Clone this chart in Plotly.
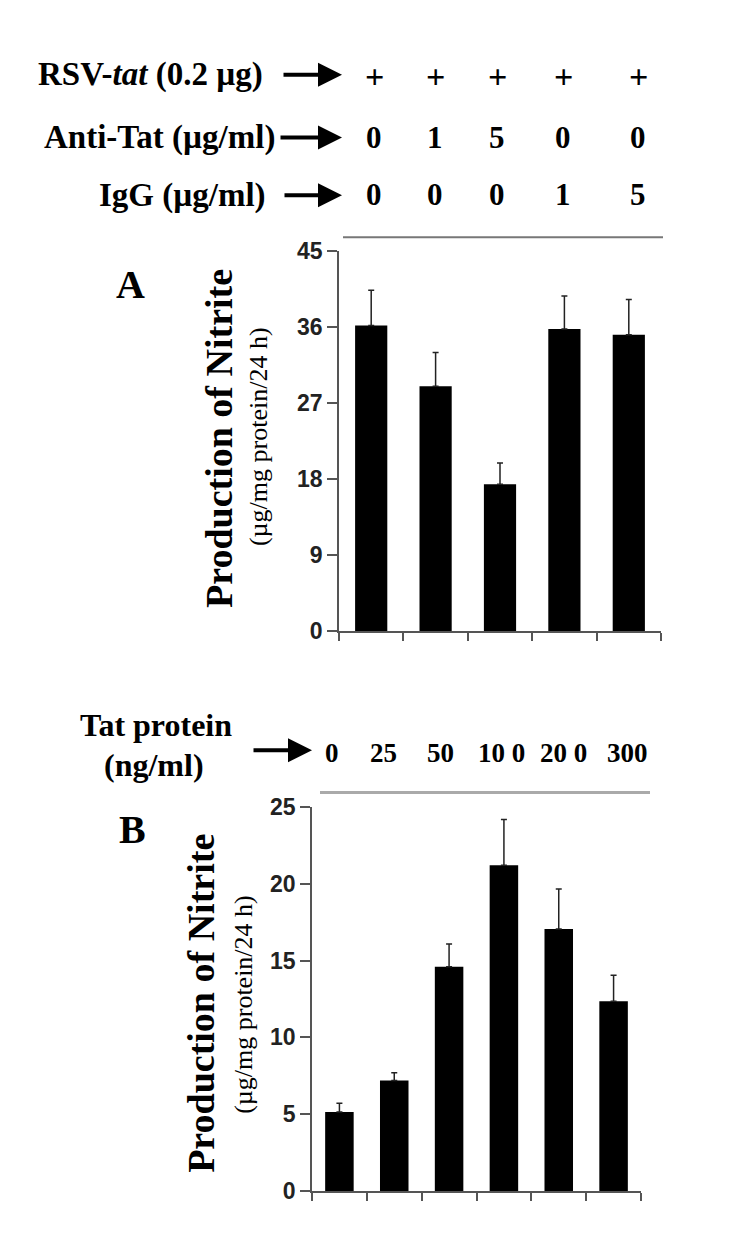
import plotly.graph_objects as go

# ---------------- data ----------------
# Panel A
rsv_tat = ["+", "+", "+", "+", "+"]
anti_tat = ["0", "1", "5", "0", "0"]
igg = ["0", "0", "0", "1", "5"]
cats_a = ["Anti-Tat 0 / IgG 0", "Anti-Tat 1 / IgG 0", "Anti-Tat 5 / IgG 0",
          "Anti-Tat 0 / IgG 1", "Anti-Tat 0 / IgG 5"]
vals_a = [36.2, 29.0, 17.4, 35.8, 35.1]
err_a = [4.2, 4.0, 2.5, 3.9, 4.2]
yticks_a = [0, 9, 18, 27, 36, 45]

# Panel B
tat_protein = ["0", "25", "50", "10 0", "20 0", "300"]
cats_b = ["0", "25", "50", "100", "200", "300"]
vals_b = [5.15, 7.2, 14.6, 21.2, 17.05, 12.35]
err_b = [0.57, 0.5, 1.47, 2.98, 2.6, 1.7]
yticks_b = [0, 5, 10, 15, 20, 25]

# page body has an 8px margin: the figure is placed at (8, 8) in the window
OFF = 8
W, H = 734, 1235
def px(x):
    return (x - OFF) / W
def py(y):
    return 1 - (y - OFF) / H

SERIF = "Liberation Serif, Times New Roman, serif"
SANS = "Liberation Sans, Arial, sans-serif"

fig = go.Figure()

fig.add_trace(go.Bar(
    x=cats_a, y=vals_a, width=0.5, marker=dict(color="black", line=dict(width=0)),
    error_y=dict(type="data", symmetric=False, array=err_a, arrayminus=[0] * len(err_a),
                 color="#222", thickness=1.5, width=3),
    xaxis="x", yaxis="y", showlegend=False))

fig.add_trace(go.Bar(
    x=cats_b, y=vals_b, width=0.52, marker=dict(color="black", line=dict(width=0)),
    error_y=dict(type="data", symmetric=False, array=err_b, arrayminus=[0] * len(err_b),
                 color="#222", thickness=1.5, width=3),
    xaxis="x2", yaxis="y2", showlegend=False))

axis_common = dict(showgrid=False, zeroline=False, showline=True, linecolor="#555",
                   linewidth=1.5, ticks="outside", tickcolor="#555", tickwidth=1.5)

fig.update_layout(
    width=W, height=H, margin=dict(l=0, r=0, t=0, b=0),
    paper_bgcolor="white", plot_bgcolor="white",
    xaxis=dict(domain=[px(339), px(661)], anchor="y", type="category",
               tickson="boundaries", showticklabels=False, ticklen=8, **axis_common),
    yaxis=dict(domain=[py(631), py(243.3)], anchor="x", range=[0, 45],
               tickvals=yticks_a, ticklen=10,
               tickfont=dict(family=SANS, size=23, color="#222", weight="bold"),
               **axis_common),
    xaxis2=dict(domain=[px(312), px(641)], anchor="y2", type="category",
                tickson="boundaries", showticklabels=False, ticklen=8, **axis_common),
    yaxis2=dict(domain=[py(1203.3), py(810.7)], anchor="x2", range=[0, 25],
                tickvals=yticks_b, ticklen=10,
                tickfont=dict(family=SANS, size=23, color="#222", weight="bold"),
                **axis_common),
)

ann = []
def text(x, y, t, size, bold=True, xanchor="center", angle=0, family=SERIF):
    ann.append(dict(x=px(x), y=py(y), xref="paper", yref="paper", text=t,
                    showarrow=False, xanchor=xanchor, yanchor="middle", textangle=angle,
                    font=dict(family=family, size=size, color="black",
                              weight="bold" if bold else "normal")))

def arrow(x0, x1, y):
    ann.append(dict(x=px(x1), y=py(y), xref="paper", yref="paper", text="",
                    showarrow=True, ax=x0 - x1, ay=0, axref="pixel", ayref="pixel",
                    arrowhead=2, arrowsize=1.2, arrowwidth=4, arrowcolor="black"))

# Panel A header
text(265, 63, "RSV-<i>tat</i> (0.2 µg)", 33, xanchor="right")
text(277, 127, "Anti-Tat (µg/ml)", 33, xanchor="right")
text(268, 186, "IgG (µg/ml)", 33, xanchor="right")
arrow(282, 342, 63)
arrow(279, 342, 127)
arrow(283, 342, 186)
a_cols = [374, 435, 497, 563, 638]
for i in range(len(cats_a)):
    text(a_cols[i], 65, rsv_tat[i], 34)
    text(a_cols[i], 127, anti_tat[i], 31)
    text(a_cols[i], 185, igg[i], 31)

# Panel B header
text(156, 727, "Tat protein", 32)
text(154, 768, "(ng/ml)", 32)
arrow(252, 312, 753)
b_cols = [332, 383, 440, 502, 563, 627]
for i in range(len(cats_b)):
    text(b_cols[i], 756, tat_protein[i], 27)

# Panel letters
text(130, 277, "A", 40)
text(132, 834, "B", 40)

# Y axis titles
text(219, 435, "Production of Nitrite", 38, angle=-90)
text(258, 432, "(µg/mg protein/24 h)", 26, bold=False, angle=-90)
text(201, 1012, "Production of Nitrite", 38, angle=-90)
text(244, 1012, "(µg/mg protein/24 h)", 26, bold=False, angle=-90)

fig.update_layout(annotations=ann)

# grey separator lines
fig.add_shape(type="line", xref="paper", yref="paper", x0=px(343), x1=px(663),
              y0=py(229), y1=py(229), line=dict(color="#777", width=2))
fig.add_shape(type="line", xref="paper", yref="paper", x0=px(320), x1=px(650),
              y0=py(796), y1=py(796), line=dict(color="#aaa", width=3))

fig.write_html("out.html")
